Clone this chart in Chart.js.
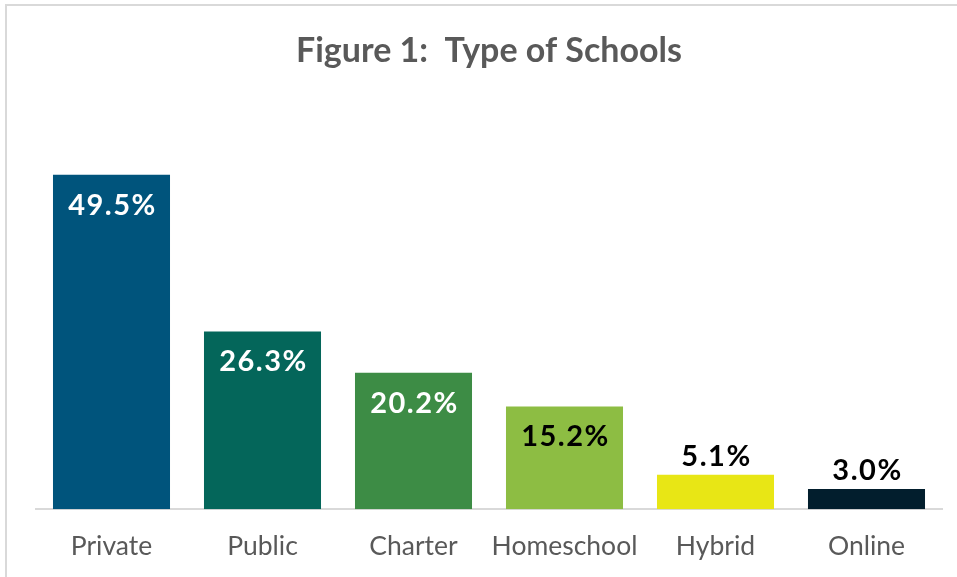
<!DOCTYPE html>
<html>
<head>
<meta charset="utf-8">
<script src="https://cdn.jsdelivr.net/npm/chart.js@4.4.0/dist/chart.umd.min.js"></script>
<style>
    body { margin: 0; background: #ffffff; }
    #marco {
        position: absolute; left: 5px; top: 4px;
        width: 970px; height: 600px;
        border: 2px solid #d9d9d9;
    }
    #caja { position: absolute; left: 0; top: 0; width: 957px; height: 577px; }
</style>
</head>
<body>
<div id="marco"></div>
<div id="caja"><canvas id="barras" width="957" height="577"></canvas></div>
<script>
/* datos del gráfico */
var categorias = ["Private", "Public", "Charter", "Homeschool", "Hybrid", "Online"];
var porcentajes = [49.5, 26.3, 20.2, 15.2, 5.1, 3.0];
var etiquetas = ["49.5%", "26.3%", "20.2%", "15.2%", "5.1%", "3.0%"];
var colores = ["#00547c", "#04665a", "#3d8c45", "#8dbd43", "#e8e615", "#021e2d"];
var coloresTexto = ["#ffffff", "#ffffff", "#ffffff", "#000000", "#000000", "#000000"];
var etiquetaDentro = [true, true, true, true, false, false];

/* etiquetas de valor sobre las barras */
var pluginEtiquetas = {
    id: "etiquetas",
    afterDatasetsDraw: function (chart) {
        var ctx = chart.ctx;
        var barras = chart.getDatasetMeta(0).data;
        ctx.save();
        ctx.font = "bold 29px Lato";
        ctx.letterSpacing = "1.5px";
        ctx.textAlign = "center";
        ctx.textBaseline = "alphabetic";
        barras.forEach(function (barra, i) {
            ctx.fillStyle = coloresTexto[i];
            var y = etiquetaDentro[i] ? barra.y + 40 : barra.y - 9;
            ctx.fillText(etiquetas[i], barra.x + 1, y);
        });
        ctx.restore();
    }
};

function cargaGraficoBarras() {
    var datos = {
        labels: categorias,
        datasets: [{
            data: porcentajes,
            backgroundColor: colores,
            barPercentage: 0.775,
            categoryPercentage: 1
        }]
    };

    var config = {
        type: "bar",
        data: datos,
        plugins: [pluginEtiquetas],
        options: {
            responsive: false,
            animation: false,
            layout: {
                padding: { left: 36, right: 15, top: 0, bottom: -6 }
            },
            plugins: {
                legend: { display: false },
                tooltip: { enabled: false },
                title: {
                    display: true,
                    text: "Figure 1:  Type of Schools",
                    color: "#595959",
                    font: { family: "Lato", size: 34, weight: "bold" },
                    padding: { top: 31, bottom: 32 }
                }
            },
            scales: {
                x: {
                    grid: { display: false, drawTicks: false },
                    border: { color: "#d9d9d9", width: 2 },
                    ticks: {
                        color: "#595959",
                        padding: 21,
                        maxRotation: 0,
                        minRotation: 0,
                        autoSkip: false,
                        font: { family: "Lato", size: 26.5 }
                    }
                },
                y: {
                    display: false,
                    min: 0,
                    max: 60
                }
            }
        }
    };
    var grafico = document.getElementById("barras").getContext("2d");
    new Chart(grafico, config);
}

cargaGraficoBarras();
</script>
</body>
</html>
